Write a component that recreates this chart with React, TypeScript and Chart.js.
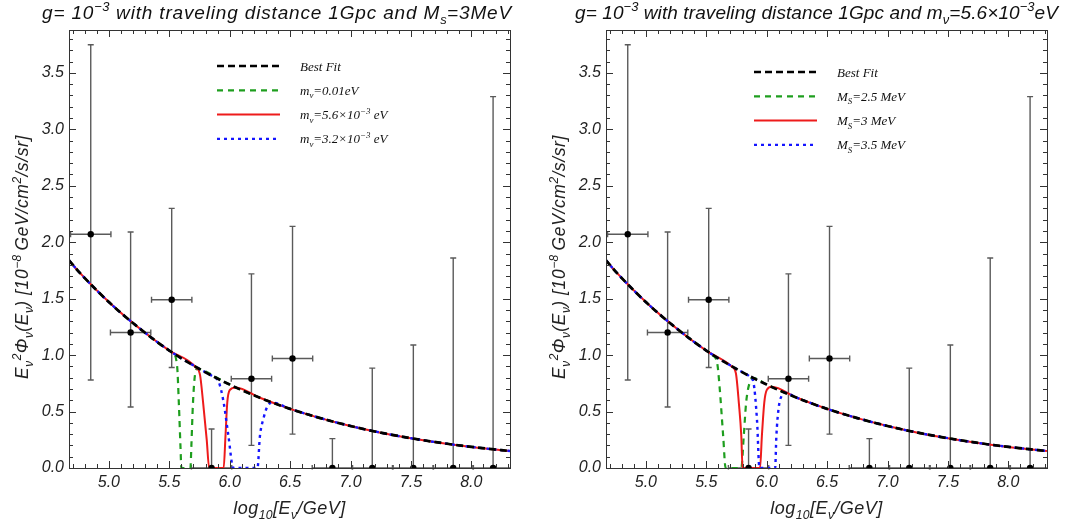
import React, { useEffect, useRef } from 'react';
import { Chart, registerables } from 'chart.js';

Chart.register(...registerables);

// ---------- axis ranges & tick labels ----------
const X_MIN = 4.67;
const X_MAX = 8.32;
const Y_MIN = 0;
const Y_MAX = 3.88;
const xTickValues = [5.0, 5.5, 6.0, 6.5, 7.0, 7.5, 8.0];
const yTickValues = [0.0, 0.5, 1.0, 1.5, 2.0, 2.5, 3.0, 3.5];

// ---------- measured data points (both panels) ----------
const binCenters = [4.85, 5.18, 5.52, 5.85, 6.18, 6.52, 6.85, 7.18, 7.52, 7.85, 8.18];
const binHalfWidths = [0.167, 0.167, 0.167, 0.167, 0.167, 0.167, 0.167, 0.167, 0.167, 0.167, 0.167];
const fluxValues = [2.07, 1.2, 1.49, 0, 0.79, 0.97, 0, 0, 0, 0, 0];
const fluxLow = [0.78, 0.54, 0.89, 0, 0.2, 0.3, 0, 0, 0, 0, 0];
const fluxHigh = [3.75, 2.09, 2.3, 0.345, 1.72, 2.14, 0.26, 0.885, 1.09, 1.86, 3.29];

// ---------- best fit curve ----------
const bestFitX = [4.67, 4.75, 5.0, 5.25, 5.5, 5.75, 6.0, 6.25, 6.5, 6.75, 7.0, 7.25, 7.5, 7.75, 8.0, 8.25, 8.32];
const bestFitY = [1.84, 1.74, 1.47, 1.24, 1.04, 0.877, 0.739, 0.622, 0.524, 0.442, 0.372, 0.313, 0.264, 0.222, 0.187, 0.158, 0.15];

// ---------- left panel dips (M_S = 3 MeV) ----------
const leftGreenX = [5.53, 5.565, 5.58, 5.593, 5.6, 5.675, 5.683, 5.695, 5.71, 5.735];
const leftGreenY = [1.02, 0.9, 0.55, 0.18, 0, 0, 0.2, 0.55, 0.8, 0.88];
const leftRedX = [5.72, 5.755, 5.78, 5.81, 5.83, 5.95, 5.965, 5.98, 6.0, 6.05];
const leftRedY = [0.89, 0.82, 0.58, 0.25, 0, 0, 0.28, 0.58, 0.69, 0.714];
const leftBlueX = [5.86, 5.91, 5.95, 5.99, 6.03, 6.23, 6.25, 6.28, 6.31, 6.35];
const leftBlueY = [0.81, 0.76, 0.58, 0.28, 0, 0, 0.28, 0.44, 0.54, 0.58];

// ---------- right panel dips (m_nu = 5.6e-3 eV) ----------
const rightGreenX = [5.55, 5.59, 5.61, 5.64, 5.66, 5.79, 5.81, 5.83, 5.86, 5.89];
const rightGreenY = [1.0, 0.93, 0.72, 0.28, 0, 0, 0.28, 0.58, 0.76, 0.797];
const rightRedX = [5.71, 5.745, 5.77, 5.79, 5.8, 5.945, 5.96, 5.98, 6.0, 6.04];
const rightRedY = [0.9, 0.84, 0.57, 0.28, 0, 0, 0.28, 0.58, 0.69, 0.72];
const rightBlueX = [5.86, 5.89, 5.92, 5.94, 6.07, 6.08, 6.1, 6.13, 6.15];
const rightBlueY = [0.81, 0.76, 0.42, 0, 0, 0.28, 0.54, 0.65, 0.667];

type Seg = { t: string; s?: 'sub' | 'sup' };

// ---------- texts ----------
const leftTitle: Seg[] = [
  { t: 'g= 10' }, { t: '\u22123', s: 'sup' }, { t: ' with traveling distance 1Gpc and M' }, { t: 's', s: 'sub' }, { t: '=3MeV' },
];
const rightTitle: Seg[] = [
  { t: 'g= 10' }, { t: '\u22123', s: 'sup' }, { t: ' with traveling distance 1Gpc and m' }, { t: '\u03BD', s: 'sub' },
  { t: '=5.6\u00D710' }, { t: '\u22123', s: 'sup' }, { t: 'eV' },
];
const yAxisLabel: Seg[] = [
  { t: 'E' }, { t: '\u03BD', s: 'sub' }, { t: '2', s: 'sup' }, { t: '\u03A6' }, { t: '\u03BD', s: 'sub' }, { t: '(E' }, { t: '\u03BD', s: 'sub' },
  { t: ') [10' }, { t: '\u22128', s: 'sup' }, { t: '\u2009GeV/cm' }, { t: '2', s: 'sup' }, { t: '/s/sr]' },
];
const xAxisLabel: Seg[] = [{ t: 'log' }, { t: '10', s: 'sub' }, { t: '[E' }, { t: '\u03BD', s: 'sub' }, { t: '/GeV]' }];

const leftLegend: Seg[][] = [
  [{ t: 'Best Fit' }],
  [{ t: 'm' }, { t: '\u03BD', s: 'sub' }, { t: '=0.01eV' }],
  [{ t: 'm' }, { t: '\u03BD', s: 'sub' }, { t: '=5.6\u00D710' }, { t: '\u22123', s: 'sup' }, { t: ' eV' }],
  [{ t: 'm' }, { t: '\u03BD', s: 'sub' }, { t: '=3.2\u00D710' }, { t: '\u22123', s: 'sup' }, { t: ' eV' }],
];
const rightLegend: Seg[][] = [
  [{ t: 'Best Fit' }],
  [{ t: 'M' }, { t: 'S', s: 'sub' }, { t: '=2.5 MeV' }],
  [{ t: 'M' }, { t: 'S', s: 'sub' }, { t: '=3 MeV' }],
  [{ t: 'M' }, { t: 'S', s: 'sub' }, { t: '=3.5 MeV' }],
];

// ---------- styles ----------
const FIT_STYLE = { color: '#000000', width: 2.7, dash: [7, 4] };
const GREEN_STYLE = { color: '#1e9e1e', width: 2.2, dash: [6, 5] };
const RED_STYLE = { color: '#ee1b1b', width: 2, dash: [] as number[] };
const BLUE_STYLE = { color: '#1515ff', width: 2.4, dash: [3, 4] };

function withDip(dx: number[], dy: number[]) {
  const pts: { x: number; y: number }[] = [];
  bestFitX.forEach((x, i) => {
    if (x < dx[0] || x > dx[dx.length - 1]) pts.push({ x, y: bestFitY[i] });
  });
  dx.forEach((x, i) => pts.push({ x, y: dy[i] }));
  pts.sort((a, b) => a.x - b.x);
  return pts;
}

type RichOpts = {
  size: number;
  family: string;
  italic: boolean;
  align: 'left' | 'center';
  spacing: number;
  color: string;
  fitWidth?: number;
};

function drawRich(ctx: CanvasRenderingContext2D, segs: Seg[], x: number, y: number, o: RichOpts) {
  const fontFor = (s?: string) => {
    const sz = s ? o.size * 0.68 : o.size;
    return `${o.italic ? 'italic ' : ''}${sz}px "${o.family}"`;
  };
  const c: any = ctx;
  let spacing = o.spacing;
  if (o.fitWidth) {
    let natural = 0;
    let n = 0;
    segs.forEach((sg) => {
      ctx.font = fontFor(sg.s);
      c.letterSpacing = '0px';
      natural += ctx.measureText(sg.t).width;
      n += sg.t.length * (sg.s ? 0.6 : 1);
    });
    spacing = (o.fitWidth - natural) / n;
  }
  let total = 0;
  const widths: number[] = [];
  segs.forEach((sg) => {
    ctx.font = fontFor(sg.s);
    c.letterSpacing = '0px';
    const w = ctx.measureText(sg.t).width + sg.t.length * (sg.s ? spacing * 0.6 : spacing);
    widths.push(w);
    total += w;
  });
  let cx = o.align === 'center' ? x - total / 2 : x;
  ctx.fillStyle = o.color;
  ctx.textAlign = 'left';
  ctx.textBaseline = 'alphabetic';
  segs.forEach((sg, i) => {
    ctx.font = fontFor(sg.s);
    c.letterSpacing = (sg.s ? spacing * 0.6 : spacing) + 'px';
    const dy = sg.s === 'sub' ? o.size * 0.28 : sg.s === 'sup' ? -o.size * 0.42 : 0;
    ctx.fillText(sg.t, cx, y + dy);
    cx += widths[i];
  });
  c.letterSpacing = '0px';
}

type PanelDef = {
  title: Seg[];
  titleX: number;
  titleWidth: number;
  legend: Seg[][];
  legendTop: number;
  green: { x: number; y: number }[];
  red: { x: number; y: number }[];
  blue: { x: number; y: number }[];
};

function makeDecor(p: PanelDef) {
  return {
    id: 'decor',
    beforeDatasetsDraw(chart: any) {
      const { ctx, chartArea: a, scales } = chart;
      const xs = scales.x;
      const ys = scales.y;
      ctx.save();
      ctx.beginPath();
      ctx.rect(a.left, a.top, a.right - a.left, a.bottom - a.top + 1.5);
      ctx.clip();
      ctx.strokeStyle = '#5a5a5a';
      ctx.lineWidth = 1.4;
      const cap = 3;
      binCenters.forEach((c, i) => {
        const px = xs.getPixelForValue(c);
        const py = ys.getPixelForValue(fluxValues[i]);
        const lo = ys.getPixelForValue(fluxLow[i]);
        const hi = ys.getPixelForValue(fluxHigh[i]);
        const xl = xs.getPixelForValue(c - binHalfWidths[i]);
        const xr = xs.getPixelForValue(c + binHalfWidths[i]);
        ctx.beginPath();
        ctx.moveTo(px, lo);
        ctx.lineTo(px, hi);
        ctx.moveTo(px - cap, hi);
        ctx.lineTo(px + cap, hi);
        if (fluxLow[i] < fluxValues[i]) {
          ctx.moveTo(px - cap, lo);
          ctx.lineTo(px + cap, lo);
        }
        ctx.moveTo(xl, py);
        ctx.lineTo(xr, py);
        ctx.moveTo(xl, py - cap);
        ctx.lineTo(xl, py + cap);
        ctx.moveTo(xr, py - cap);
        ctx.lineTo(xr, py + cap);
        ctx.stroke();
      });
      ctx.restore();
    },
    afterDatasetsDraw(chart: any) {
      const { ctx, chartArea: a, scales } = chart;
      const xs = scales.x;
      const ys = scales.y;
      ctx.save();
      ctx.strokeStyle = '#333';
      ctx.lineWidth = 1;
      ctx.strokeRect(Math.round(a.left) + 0.5, Math.round(a.top) + 0.5, Math.round(a.right - a.left), Math.round(a.bottom - a.top));
      ctx.beginPath();
      for (let k = Math.ceil(X_MIN * 10); k <= Math.floor(X_MAX * 10); k++) {
        const v = k / 10;
        const major = k % 5 === 0;
        const len = major ? 7 : 4;
        const px = Math.round(xs.getPixelForValue(v)) + 0.5;
        ctx.moveTo(px, a.bottom);
        ctx.lineTo(px, a.bottom - len);
        ctx.moveTo(px, a.top);
        ctx.lineTo(px, a.top + len);
      }
      for (let k = Math.ceil(Y_MIN * 10) + 1; k <= Math.floor(Y_MAX * 10); k++) {
        const v = k / 10;
        const major = k % 5 === 0;
        const len = major ? 7 : 4;
        const py = Math.round(ys.getPixelForValue(v)) + 0.5;
        ctx.moveTo(a.left, py);
        ctx.lineTo(a.left + len, py);
        ctx.moveTo(a.right, py);
        ctx.lineTo(a.right - len, py);
      }
      ctx.stroke();
      ctx.restore();
    },
    afterDraw(chart: any) {
      const { ctx, chartArea: a } = chart;
      ctx.save();
      drawRich(ctx, p.title, p.titleX, 19, {
        size: 19, family: 'Liberation Sans', italic: true, align: 'center', spacing: 0, color: '#111', fitWidth: p.titleWidth,
      });
      drawRich(ctx, xAxisLabel, (a.left + a.right) / 2, 514, { size: 18, family: 'Liberation Sans', italic: true, align: 'center', spacing: 0.5, color: '#222' });
      ctx.save();
      ctx.translate(28, 257);
      ctx.rotate(-Math.PI / 2);
      drawRich(ctx, yAxisLabel, 0, 0, { size: 17.5, family: 'Liberation Sans', italic: true, align: 'center', spacing: 0.6, color: '#222' });
      ctx.restore();
      // legend
      const styles = [FIT_STYLE, GREEN_STYLE, RED_STYLE, BLUE_STYLE];
      p.legend.forEach((segs, i) => {
        const ly = p.legendTop + i * 24.3;
        const st = styles[i];
        ctx.save();
        ctx.strokeStyle = st.color;
        ctx.lineWidth = st.width;
        ctx.setLineDash(st.dash);
        ctx.beginPath();
        ctx.moveTo(217, ly);
        ctx.lineTo(280, ly);
        ctx.stroke();
        ctx.restore();
        drawRich(ctx, segs, 300, ly + 4.5, { size: 13, family: 'Liberation Serif', italic: true, align: 'left', spacing: 0, color: '#111' });
      });
      ctx.restore();
    },
  };
}

function Panel({ p, left, width }: { p: PanelDef; left: number; width: number }) {
  const ref = useRef<HTMLCanvasElement>(null);
  useEffect(() => {
    if (!ref.current) return;
    const tickFont = { family: 'Liberation Sans', size: 16, style: 'italic' as const };
    const points = binCenters.map((x, i) => ({ x, y: fluxValues[i] }));
    const fit = bestFitX.map((x, i) => ({ x, y: bestFitY[i] }));
    const lineDs = (label: string, data: any[], st: any, order: number) => ({
      label,
      data,
      borderColor: st.color,
      borderWidth: st.width,
      borderDash: st.dash,
      pointRadius: 0,
      fill: false,
      cubicInterpolationMode: 'monotone' as const,
      order,
    });
    const chart = new Chart(ref.current, {
      type: 'line',
      data: {
        datasets: [
          { label: 'data', data: points, showLine: false, pointRadius: 3.2, pointBackgroundColor: '#000', pointBorderColor: '#000', pointBorderWidth: 0, order: 0 } as any,
          lineDs('Best Fit', fit, FIT_STYLE, 1),
          lineDs('blue', p.blue, BLUE_STYLE, 2),
          lineDs('red', p.red, RED_STYLE, 3),
          lineDs('green', p.green, GREEN_STYLE, 4),
        ],
      },
      options: {
        animation: false,
        responsive: false,
        devicePixelRatio: 1,
        events: [],
        layout: { padding: { top: 30, right: width - 510, left: 0, bottom: 0 } },
        plugins: { legend: { display: false }, tooltip: { enabled: false }, title: { display: false } },
        scales: {
          x: {
            type: 'linear',
            min: X_MIN,
            max: X_MAX,
            afterBuildTicks: (s: any) => {
              s.ticks = xTickValues.map((v) => ({ value: v }));
            },
            afterFit: (s: any) => {
              s.height = 61;
            },
            grid: { display: false, drawTicks: false },
            border: { display: false },
            ticks: { font: tickFont, color: '#222', padding: 5, maxRotation: 0, autoSkip: false, callback: (v: any) => Number(v).toFixed(1) },
          },
          y: {
            type: 'linear',
            min: Y_MIN,
            max: Y_MAX,
            afterBuildTicks: (s: any) => {
              s.ticks = yTickValues.map((v) => ({ value: v }));
            },
            afterFit: (s: any) => {
              s.width = 69;
            },
            grid: { display: false, drawTicks: false },
            border: { display: false },
            ticks: { font: tickFont, color: '#222', padding: 5, autoSkip: false, callback: (v: any) => Number(v).toFixed(1) },
          },
        },
      },
      plugins: [makeDecor(p)],
    });
    return () => chart.destroy();
  }, []);
  return <canvas ref={ref} width={width} height={529} style={{ position: 'absolute', left, top: 0, width, height: 529 }} />;
}

const leftPanel: PanelDef = {
  title: leftTitle,
  titleX: 277,
  titleWidth: 470,
  legend: leftLegend,
  legendTop: 66,
  green: withDip(leftGreenX, leftGreenY),
  red: withDip(leftRedX, leftRedY),
  blue: withDip(leftBlueX, leftBlueY),
};
const rightPanel: PanelDef = {
  title: rightTitle,
  titleX: 279.5,
  titleWidth: 483,
  legend: rightLegend,
  legendTop: 72,
  green: withDip(rightGreenX, rightGreenY),
  red: withDip(rightRedX, rightRedY),
  blue: withDip(rightBlueX, rightBlueY),
};

export default function App() {
  return (
    <div style={{ position: 'absolute', left: 0, top: 0, width: 1075, height: 529, background: '#fff', overflow: 'hidden' }}>
      <Panel p={leftPanel} left={0} width={537} />
      <Panel p={rightPanel} left={537} width={538} />
    </div>
  );
}
